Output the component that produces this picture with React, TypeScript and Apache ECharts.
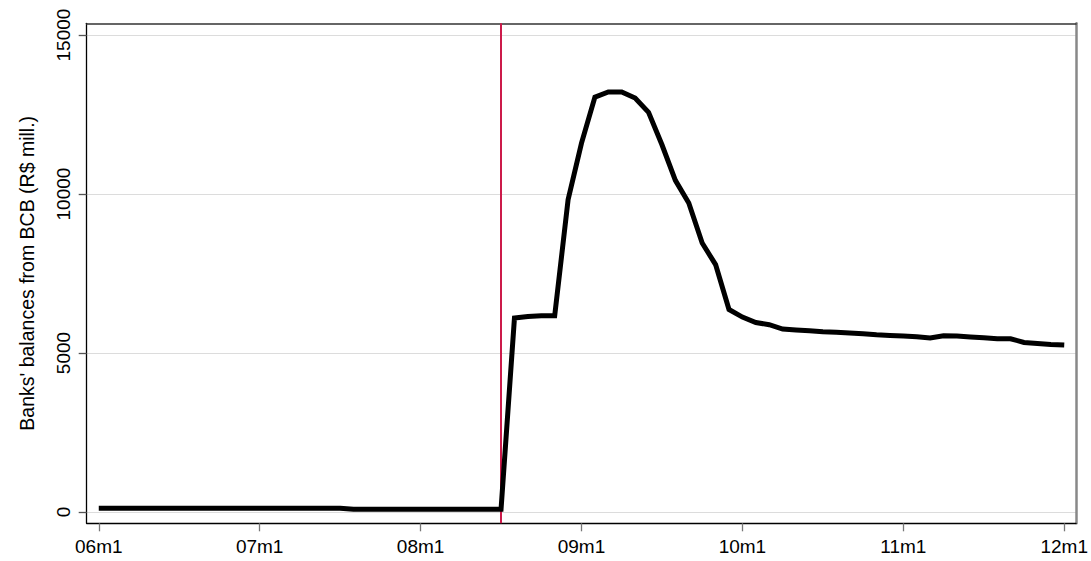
import React, { useEffect, useRef } from "react";
import * as echarts from "echarts";

// Monthly observations, 06m1 .. 12m1 (73 months), R$ million
const balances: number[] = [
  // 06m1 - 07m7
  120, 120, 120, 120, 120, 120, 120, 120, 120, 120, 120, 120, 120, 120, 120, 120, 120, 120, 120,
  // 07m8 - 08m7
  90, 90, 90, 90, 90, 90, 90, 90, 90, 90, 90, 90,
  // 08m8 - 12m1
  6100, 6150, 6170, 6170, 9820, 11600, 13050, 13210, 13210, 13020, 12570, 11550, 10430, 9720,
  8460, 7780, 6370, 6130, 5960, 5890, 5755, 5723, 5700, 5670, 5650, 5630, 5607, 5575, 5555,
  5535, 5513, 5470, 5544, 5535, 5503, 5480, 5450, 5450, 5333, 5302, 5270, 5250,
];

const xTickValues = [0, 12, 24, 36, 48, 60, 72];
const xTickLabels = ["06m1", "07m1", "08m1", "09m1", "10m1", "11m1", "12m1"];
const yTickValues = [0, 5000, 10000, 15000];
const yTickLabels = ["0", "5000", "10000", "15000"];
const eventMonth = 30; // 08m7
const yTitle = "Banks' balances from BCB (R$ mill.)";

const X_MIN = -0.9;
const X_MAX = 72.88;
const Y_MIN = -355;
const Y_MAX = 15370;

export default function App() {
  const ref = useRef<HTMLDivElement>(null);
  useEffect(() => {
    document.body.style.margin = "0";
    if (!ref.current) return;
    const chart = echarts.init(ref.current, undefined, { renderer: "svg" });
    const font = "Liberation Sans, Arial, sans-serif";
    const lineData = balances.map((v, i) => [i, v]);
    chart.setOption({
      animation: false,
      backgroundColor: "#ffffff",
      grid: { left: 86.7, top: 23.3, right: 14.3, bottom: 37.7, containLabel: false },
      xAxis: [
        {
          type: "value",
          position: "bottom",
          min: X_MIN,
          max: X_MAX,
          axisLine: { show: true, onZero: false, lineStyle: { color: "#000", width: 1.3 } },
          axisTick: { show: true, length: 8, customValues: xTickValues, lineStyle: { color: "#777", width: 1.3 } },
          axisLabel: {
            show: true,
            customValues: xTickValues,
            margin: 14,
            color: "#000",
            fontFamily: font,
            fontSize: 19,
            formatter: (v: number) => xTickLabels[xTickValues.indexOf(Math.round(v))] ?? "",
          },
          splitLine: { show: false },
        },
        {
          type: "value",
          position: "top",
          min: X_MIN,
          max: X_MAX,
          axisLine: { show: true, onZero: false, lineStyle: { color: "#333", width: 1.5 } },
          axisTick: { show: false },
          axisLabel: { show: false },
          splitLine: { show: false },
        },
      ],
      yAxis: [
        {
          type: "value",
          position: "left",
          min: Y_MIN,
          max: Y_MAX,
          name: yTitle,
          nameLocation: "middle",
          nameGap: 50,
          nameRotate: 90,
          nameTextStyle: { color: "#000", fontFamily: font, fontSize: 19.5 },
          axisLine: { show: true, onZero: false, lineStyle: { color: "#000", width: 1.3 } },
          axisTick: { show: true, length: 8, customValues: yTickValues, lineStyle: { color: "#555", width: 1.3 } },
          axisLabel: {
            show: true,
            customValues: yTickValues,
            rotate: 90,
            margin: 14,
            color: "#000",
            fontFamily: font,
            fontSize: 19,
            formatter: (v: number) => yTickLabels[yTickValues.indexOf(Math.round(v))] ?? "",
          },
          splitLine: { show: true, lineStyle: { color: "#dcdcdc", width: 1 } },
        },
        {
          type: "value",
          position: "right",
          min: Y_MIN,
          max: Y_MAX,
          axisLine: { show: true, onZero: false, lineStyle: { color: "#888", width: 2.5 } },
          axisTick: { show: false },
          axisLabel: { show: false },
          splitLine: { show: false },
        },
      ],
      series: [
        {
          type: "line",
          xAxisIndex: 0,
          yAxisIndex: 0,
          data: lineData,
          showSymbol: false,
          symbol: "none",
          lineStyle: { color: "#000", width: 5, cap: "butt", join: "miter" },
          z: 3,
          markLine: {
            silent: true,
            symbol: ["none", "none"],
            label: { show: false },
            lineStyle: { color: "#cc1a4a", width: 2, type: "solid" },
            data: [{ xAxis: eventMonth }],
            z: 2,
          },
        },
      ],
    });
    return () => chart.dispose();
  }, []);
  return (
    <div
      ref={ref}
      style={{ width: 1091, height: 561, position: "absolute", left: 0, top: 0 }}
    />
  );
}
